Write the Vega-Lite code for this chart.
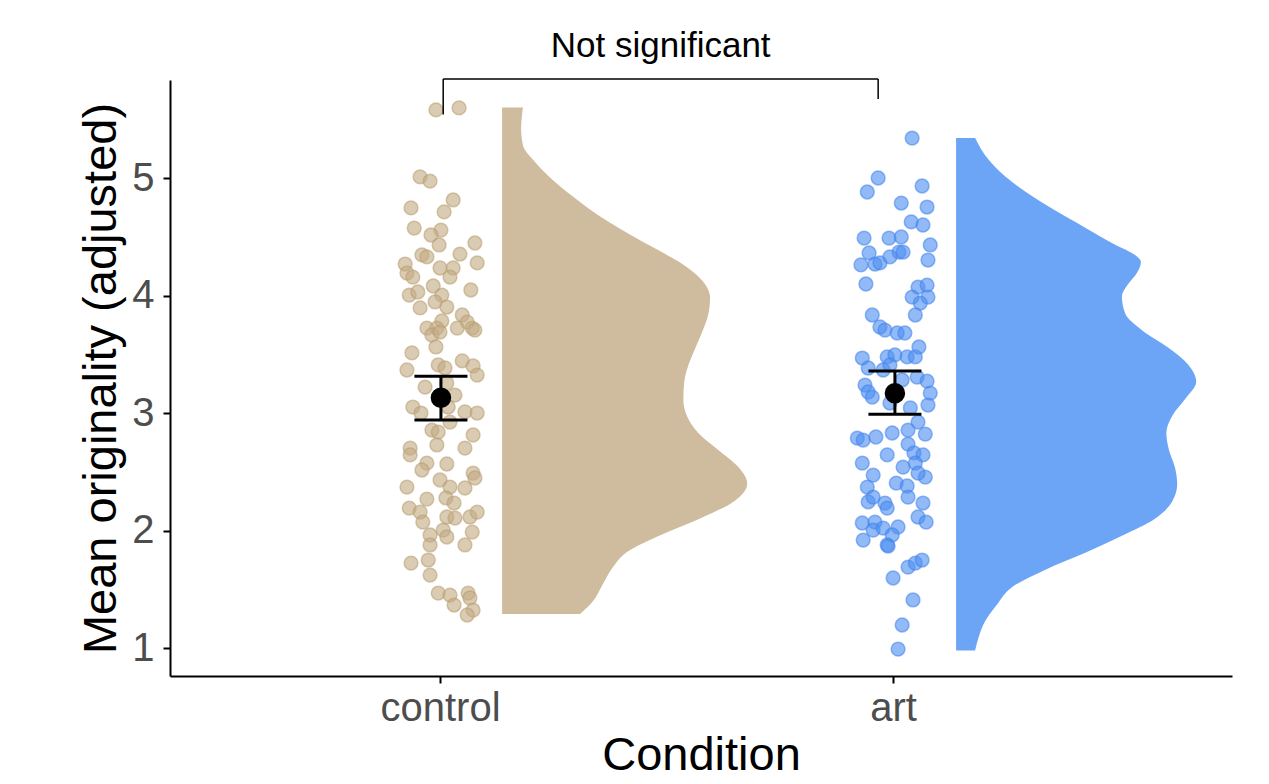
{
  "$schema": "https://vega.github.io/schema/vega-lite/v6.json",
  "width": 1062,
  "height": 596,
  "autosize": "none",
  "padding": {"left": 170, "top": 80, "right": 37, "bottom": 108},
  "background": "white",
  "config": {
    "view": {"stroke": null},
    "font": "Liberation Sans",
    "axis": {
      "grid": false,
      "domainColor": "black",
      "domainWidth": 2,
      "tickColor": "black",
      "tickWidth": 2,
      "tickSize": 7,
      "labelFont": "Liberation Sans",
      "labelFontSize": 40,
      "labelColor": "#4d4d4d",
      "titleFont": "Liberation Sans",
      "titleFontSize": 47,
      "titleFontWeight": "normal",
      "titleColor": "black"
    }
  },
  "datasets": {
    "points": [
      {"cond": "control", "jitter_x": 0.991, "value": 5.579},
      {"cond": "control", "jitter_x": 1.042, "value": 5.596},
      {"cond": "control", "jitter_x": 0.956, "value": 5.009},
      {"cond": "control", "jitter_x": 0.978, "value": 4.974},
      {"cond": "control", "jitter_x": 1.029, "value": 4.813},
      {"cond": "control", "jitter_x": 0.936, "value": 4.745},
      {"cond": "control", "jitter_x": 1.009, "value": 4.711},
      {"cond": "control", "jitter_x": 0.943, "value": 4.574},
      {"cond": "control", "jitter_x": 1.002, "value": 4.557},
      {"cond": "control", "jitter_x": 0.980, "value": 4.515},
      {"cond": "control", "jitter_x": 1.077, "value": 4.447},
      {"cond": "control", "jitter_x": 0.998, "value": 4.430},
      {"cond": "control", "jitter_x": 0.960, "value": 4.345},
      {"cond": "control", "jitter_x": 0.971, "value": 4.328},
      {"cond": "control", "jitter_x": 1.044, "value": 4.353},
      {"cond": "control", "jitter_x": 0.923, "value": 4.268},
      {"cond": "control", "jitter_x": 1.082, "value": 4.277},
      {"cond": "control", "jitter_x": 1.000, "value": 4.234},
      {"cond": "control", "jitter_x": 1.029, "value": 4.234},
      {"cond": "control", "jitter_x": 0.927, "value": 4.191},
      {"cond": "control", "jitter_x": 0.940, "value": 4.157},
      {"cond": "control", "jitter_x": 1.022, "value": 4.157},
      {"cond": "control", "jitter_x": 0.985, "value": 4.081},
      {"cond": "control", "jitter_x": 1.068, "value": 4.047},
      {"cond": "control", "jitter_x": 0.932, "value": 4.004},
      {"cond": "control", "jitter_x": 0.951, "value": 4.030},
      {"cond": "control", "jitter_x": 1.004, "value": 4.004},
      {"cond": "control", "jitter_x": 0.989, "value": 3.945},
      {"cond": "control", "jitter_x": 1.015, "value": 3.902},
      {"cond": "control", "jitter_x": 0.956, "value": 3.894},
      {"cond": "control", "jitter_x": 1.049, "value": 3.834},
      {"cond": "control", "jitter_x": 1.004, "value": 3.783},
      {"cond": "control", "jitter_x": 1.060, "value": 3.774},
      {"cond": "control", "jitter_x": 0.971, "value": 3.723},
      {"cond": "control", "jitter_x": 0.993, "value": 3.723},
      {"cond": "control", "jitter_x": 1.038, "value": 3.723},
      {"cond": "control", "jitter_x": 1.071, "value": 3.723},
      {"cond": "control", "jitter_x": 1.077, "value": 3.706},
      {"cond": "control", "jitter_x": 0.982, "value": 3.664},
      {"cond": "control", "jitter_x": 1.000, "value": 3.689},
      {"cond": "control", "jitter_x": 0.991, "value": 3.562},
      {"cond": "control", "jitter_x": 0.938, "value": 3.511},
      {"cond": "control", "jitter_x": 0.996, "value": 3.409},
      {"cond": "control", "jitter_x": 1.011, "value": 3.383},
      {"cond": "control", "jitter_x": 1.049, "value": 3.443},
      {"cond": "control", "jitter_x": 1.073, "value": 3.400},
      {"cond": "control", "jitter_x": 0.927, "value": 3.366},
      {"cond": "control", "jitter_x": 1.082, "value": 3.323},
      {"cond": "control", "jitter_x": 1.015, "value": 3.255},
      {"cond": "control", "jitter_x": 0.967, "value": 3.221},
      {"cond": "control", "jitter_x": 1.033, "value": 3.153},
      {"cond": "control", "jitter_x": 0.940, "value": 3.051},
      {"cond": "control", "jitter_x": 0.958, "value": 3.000},
      {"cond": "control", "jitter_x": 1.018, "value": 3.051},
      {"cond": "control", "jitter_x": 1.055, "value": 3.009},
      {"cond": "control", "jitter_x": 1.082, "value": 3.000},
      {"cond": "control", "jitter_x": 1.022, "value": 2.923},
      {"cond": "control", "jitter_x": 0.982, "value": 2.855},
      {"cond": "control", "jitter_x": 0.996, "value": 2.838},
      {"cond": "control", "jitter_x": 1.073, "value": 2.813},
      {"cond": "control", "jitter_x": 0.993, "value": 2.728},
      {"cond": "control", "jitter_x": 0.934, "value": 2.702},
      {"cond": "control", "jitter_x": 0.934, "value": 2.643},
      {"cond": "control", "jitter_x": 1.055, "value": 2.702},
      {"cond": "control", "jitter_x": 0.971, "value": 2.574},
      {"cond": "control", "jitter_x": 0.960, "value": 2.515},
      {"cond": "control", "jitter_x": 1.015, "value": 2.566},
      {"cond": "control", "jitter_x": 1.073, "value": 2.489},
      {"cond": "control", "jitter_x": 1.077, "value": 2.447},
      {"cond": "control", "jitter_x": 1.000, "value": 2.430},
      {"cond": "control", "jitter_x": 1.022, "value": 2.370},
      {"cond": "control", "jitter_x": 0.927, "value": 2.370},
      {"cond": "control", "jitter_x": 1.055, "value": 2.362},
      {"cond": "control", "jitter_x": 0.971, "value": 2.268},
      {"cond": "control", "jitter_x": 1.013, "value": 2.277},
      {"cond": "control", "jitter_x": 1.031, "value": 2.234},
      {"cond": "control", "jitter_x": 0.932, "value": 2.191},
      {"cond": "control", "jitter_x": 0.956, "value": 2.157},
      {"cond": "control", "jitter_x": 0.962, "value": 2.072},
      {"cond": "control", "jitter_x": 1.015, "value": 2.115},
      {"cond": "control", "jitter_x": 1.033, "value": 2.106},
      {"cond": "control", "jitter_x": 1.066, "value": 2.115},
      {"cond": "control", "jitter_x": 1.082, "value": 2.157},
      {"cond": "control", "jitter_x": 1.071, "value": 1.987},
      {"cond": "control", "jitter_x": 1.007, "value": 2.004},
      {"cond": "control", "jitter_x": 1.015, "value": 1.945},
      {"cond": "control", "jitter_x": 0.978, "value": 1.962},
      {"cond": "control", "jitter_x": 0.978, "value": 1.877},
      {"cond": "control", "jitter_x": 1.055, "value": 1.877},
      {"cond": "control", "jitter_x": 0.974, "value": 1.749},
      {"cond": "control", "jitter_x": 0.936, "value": 1.723},
      {"cond": "control", "jitter_x": 0.978, "value": 1.621},
      {"cond": "control", "jitter_x": 0.996, "value": 1.468},
      {"cond": "control", "jitter_x": 1.022, "value": 1.451},
      {"cond": "control", "jitter_x": 1.062, "value": 1.468},
      {"cond": "control", "jitter_x": 1.066, "value": 1.426},
      {"cond": "control", "jitter_x": 1.031, "value": 1.366},
      {"cond": "control", "jitter_x": 1.073, "value": 1.323},
      {"cond": "control", "jitter_x": 1.060, "value": 1.281},
      {"cond": "art", "jitter_x": 2.042, "value": 5.340},
      {"cond": "art", "jitter_x": 1.967, "value": 5.000},
      {"cond": "art", "jitter_x": 1.943, "value": 4.881},
      {"cond": "art", "jitter_x": 2.064, "value": 4.932},
      {"cond": "art", "jitter_x": 2.018, "value": 4.787},
      {"cond": "art", "jitter_x": 2.075, "value": 4.753},
      {"cond": "art", "jitter_x": 2.040, "value": 4.626},
      {"cond": "art", "jitter_x": 2.066, "value": 4.600},
      {"cond": "art", "jitter_x": 1.936, "value": 4.489},
      {"cond": "art", "jitter_x": 1.991, "value": 4.489},
      {"cond": "art", "jitter_x": 2.018, "value": 4.498},
      {"cond": "art", "jitter_x": 2.082, "value": 4.430},
      {"cond": "art", "jitter_x": 1.947, "value": 4.362},
      {"cond": "art", "jitter_x": 2.013, "value": 4.370},
      {"cond": "art", "jitter_x": 2.022, "value": 4.370},
      {"cond": "art", "jitter_x": 1.929, "value": 4.260},
      {"cond": "art", "jitter_x": 1.960, "value": 4.268},
      {"cond": "art", "jitter_x": 1.971, "value": 4.277},
      {"cond": "art", "jitter_x": 1.993, "value": 4.328},
      {"cond": "art", "jitter_x": 2.077, "value": 4.302},
      {"cond": "art", "jitter_x": 1.940, "value": 4.098},
      {"cond": "art", "jitter_x": 2.055, "value": 4.072},
      {"cond": "art", "jitter_x": 2.075, "value": 4.089},
      {"cond": "art", "jitter_x": 2.042, "value": 3.987},
      {"cond": "art", "jitter_x": 2.077, "value": 3.987},
      {"cond": "art", "jitter_x": 2.060, "value": 3.936},
      {"cond": "art", "jitter_x": 2.049, "value": 3.834},
      {"cond": "art", "jitter_x": 1.954, "value": 3.834},
      {"cond": "art", "jitter_x": 1.971, "value": 3.732},
      {"cond": "art", "jitter_x": 1.982, "value": 3.706},
      {"cond": "art", "jitter_x": 2.009, "value": 3.681},
      {"cond": "art", "jitter_x": 2.026, "value": 3.681},
      {"cond": "art", "jitter_x": 1.932, "value": 3.468},
      {"cond": "art", "jitter_x": 1.945, "value": 3.383},
      {"cond": "art", "jitter_x": 1.987, "value": 3.477},
      {"cond": "art", "jitter_x": 2.004, "value": 3.494},
      {"cond": "art", "jitter_x": 2.031, "value": 3.477},
      {"cond": "art", "jitter_x": 2.049, "value": 3.477},
      {"cond": "art", "jitter_x": 2.057, "value": 3.562},
      {"cond": "art", "jitter_x": 1.978, "value": 3.366},
      {"cond": "art", "jitter_x": 1.993, "value": 3.409},
      {"cond": "art", "jitter_x": 2.020, "value": 3.281},
      {"cond": "art", "jitter_x": 2.053, "value": 3.306},
      {"cond": "art", "jitter_x": 2.075, "value": 3.272},
      {"cond": "art", "jitter_x": 1.938, "value": 3.238},
      {"cond": "art", "jitter_x": 1.945, "value": 3.179},
      {"cond": "art", "jitter_x": 1.954, "value": 3.136},
      {"cond": "art", "jitter_x": 2.082, "value": 3.170},
      {"cond": "art", "jitter_x": 2.077, "value": 3.068},
      {"cond": "art", "jitter_x": 1.993, "value": 3.085},
      {"cond": "art", "jitter_x": 2.038, "value": 3.043},
      {"cond": "art", "jitter_x": 2.055, "value": 2.923},
      {"cond": "art", "jitter_x": 2.071, "value": 2.821},
      {"cond": "art", "jitter_x": 2.033, "value": 2.855},
      {"cond": "art", "jitter_x": 1.998, "value": 2.830},
      {"cond": "art", "jitter_x": 1.962, "value": 2.796},
      {"cond": "art", "jitter_x": 1.921, "value": 2.787},
      {"cond": "art", "jitter_x": 1.934, "value": 2.770},
      {"cond": "art", "jitter_x": 2.033, "value": 2.736},
      {"cond": "art", "jitter_x": 1.987, "value": 2.643},
      {"cond": "art", "jitter_x": 2.046, "value": 2.660},
      {"cond": "art", "jitter_x": 2.066, "value": 2.643},
      {"cond": "art", "jitter_x": 1.932, "value": 2.574},
      {"cond": "art", "jitter_x": 2.022, "value": 2.540},
      {"cond": "art", "jitter_x": 2.049, "value": 2.574},
      {"cond": "art", "jitter_x": 1.956, "value": 2.472},
      {"cond": "art", "jitter_x": 2.071, "value": 2.455},
      {"cond": "art", "jitter_x": 2.055, "value": 2.489},
      {"cond": "art", "jitter_x": 1.943, "value": 2.370},
      {"cond": "art", "jitter_x": 2.007, "value": 2.404},
      {"cond": "art", "jitter_x": 2.031, "value": 2.379},
      {"cond": "art", "jitter_x": 1.945, "value": 2.243},
      {"cond": "art", "jitter_x": 1.982, "value": 2.234},
      {"cond": "art", "jitter_x": 1.987, "value": 2.191},
      {"cond": "art", "jitter_x": 2.033, "value": 2.285},
      {"cond": "art", "jitter_x": 2.066, "value": 2.234},
      {"cond": "art", "jitter_x": 2.055, "value": 2.115},
      {"cond": "art", "jitter_x": 2.073, "value": 2.072},
      {"cond": "art", "jitter_x": 1.956, "value": 2.285},
      {"cond": "art", "jitter_x": 1.932, "value": 2.064},
      {"cond": "art", "jitter_x": 1.960, "value": 2.072},
      {"cond": "art", "jitter_x": 1.956, "value": 2.004},
      {"cond": "art", "jitter_x": 1.978, "value": 2.021},
      {"cond": "art", "jitter_x": 2.011, "value": 2.030},
      {"cond": "art", "jitter_x": 1.998, "value": 1.962},
      {"cond": "art", "jitter_x": 1.934, "value": 1.919},
      {"cond": "art", "jitter_x": 1.987, "value": 1.877},
      {"cond": "art", "jitter_x": 1.989, "value": 1.868},
      {"cond": "art", "jitter_x": 2.033, "value": 1.689},
      {"cond": "art", "jitter_x": 2.049, "value": 1.723},
      {"cond": "art", "jitter_x": 2.064, "value": 1.749},
      {"cond": "art", "jitter_x": 2.000, "value": 1.596},
      {"cond": "art", "jitter_x": 2.044, "value": 1.409},
      {"cond": "art", "jitter_x": 2.020, "value": 1.196},
      {"cond": "art", "jitter_x": 2.011, "value": 0.991}
    ],
    "violin": [
      {"cond": "control", "value": 5.600, "base": 1.137, "edge": 1.183},
      {"cond": "control", "value": 5.421, "base": 1.137, "edge": 1.179},
      {"cond": "control", "value": 5.278, "base": 1.137, "edge": 1.183},
      {"cond": "control", "value": 5.134, "base": 1.137, "edge": 1.210},
      {"cond": "control", "value": 4.990, "base": 1.137, "edge": 1.247},
      {"cond": "control", "value": 4.846, "base": 1.137, "edge": 1.292},
      {"cond": "control", "value": 4.702, "base": 1.137, "edge": 1.342},
      {"cond": "control", "value": 4.558, "base": 1.137, "edge": 1.402},
      {"cond": "control", "value": 4.414, "base": 1.137, "edge": 1.468},
      {"cond": "control", "value": 4.270, "base": 1.137, "edge": 1.534},
      {"cond": "control", "value": 4.126, "base": 1.137, "edge": 1.579},
      {"cond": "control", "value": 3.982, "base": 1.137, "edge": 1.596},
      {"cond": "control", "value": 3.838, "base": 1.137, "edge": 1.592},
      {"cond": "control", "value": 3.694, "base": 1.137, "edge": 1.579},
      {"cond": "control", "value": 3.550, "base": 1.137, "edge": 1.563},
      {"cond": "control", "value": 3.406, "base": 1.137, "edge": 1.548},
      {"cond": "control", "value": 3.262, "base": 1.137, "edge": 1.539},
      {"cond": "control", "value": 3.118, "base": 1.137, "edge": 1.537},
      {"cond": "control", "value": 2.974, "base": 1.137, "edge": 1.545},
      {"cond": "control", "value": 2.830, "base": 1.137, "edge": 1.570},
      {"cond": "control", "value": 2.686, "base": 1.137, "edge": 1.614},
      {"cond": "control", "value": 2.542, "base": 1.137, "edge": 1.658},
      {"cond": "control", "value": 2.398, "base": 1.137, "edge": 1.678},
      {"cond": "control", "value": 2.254, "base": 1.137, "edge": 1.651},
      {"cond": "control", "value": 2.111, "base": 1.137, "edge": 1.579},
      {"cond": "control", "value": 1.967, "base": 1.137, "edge": 1.490},
      {"cond": "control", "value": 1.823, "base": 1.137, "edge": 1.415},
      {"cond": "control", "value": 1.679, "base": 1.137, "edge": 1.380},
      {"cond": "control", "value": 1.535, "base": 1.137, "edge": 1.358},
      {"cond": "control", "value": 1.391, "base": 1.137, "edge": 1.336},
      {"cond": "control", "value": 1.290, "base": 1.137, "edge": 1.309},
      {"cond": "art", "value": 5.340, "base": 2.139, "edge": 2.181},
      {"cond": "art", "value": 5.159, "base": 2.139, "edge": 2.210},
      {"cond": "art", "value": 5.014, "base": 2.139, "edge": 2.247},
      {"cond": "art", "value": 4.868, "base": 2.139, "edge": 2.298},
      {"cond": "art", "value": 4.723, "base": 2.139, "edge": 2.358},
      {"cond": "art", "value": 4.577, "base": 2.139, "edge": 2.424},
      {"cond": "art", "value": 4.431, "base": 2.139, "edge": 2.490},
      {"cond": "art", "value": 4.344, "base": 2.139, "edge": 2.534},
      {"cond": "art", "value": 4.286, "base": 2.139, "edge": 2.547},
      {"cond": "art", "value": 4.198, "base": 2.139, "edge": 2.539},
      {"cond": "art", "value": 4.082, "base": 2.139, "edge": 2.516},
      {"cond": "art", "value": 3.994, "base": 2.139, "edge": 2.505},
      {"cond": "art", "value": 3.849, "base": 2.139, "edge": 2.512},
      {"cond": "art", "value": 3.703, "base": 2.139, "edge": 2.550},
      {"cond": "art", "value": 3.558, "base": 2.139, "edge": 2.607},
      {"cond": "art", "value": 3.412, "base": 2.139, "edge": 2.651},
      {"cond": "art", "value": 3.266, "base": 2.139, "edge": 2.669},
      {"cond": "art", "value": 3.121, "base": 2.139, "edge": 2.645},
      {"cond": "art", "value": 2.975, "base": 2.139, "edge": 2.616},
      {"cond": "art", "value": 2.829, "base": 2.139, "edge": 2.603},
      {"cond": "art", "value": 2.684, "base": 2.139, "edge": 2.609},
      {"cond": "art", "value": 2.538, "base": 2.139, "edge": 2.622},
      {"cond": "art", "value": 2.393, "base": 2.139, "edge": 2.627},
      {"cond": "art", "value": 2.247, "base": 2.139, "edge": 2.616},
      {"cond": "art", "value": 2.101, "base": 2.139, "edge": 2.578},
      {"cond": "art", "value": 1.956, "base": 2.139, "edge": 2.505},
      {"cond": "art", "value": 1.810, "base": 2.139, "edge": 2.424},
      {"cond": "art", "value": 1.664, "base": 2.139, "edge": 2.335},
      {"cond": "art", "value": 1.519, "base": 2.139, "edge": 2.263},
      {"cond": "art", "value": 1.373, "base": 2.139, "edge": 2.230},
      {"cond": "art", "value": 1.228, "base": 2.139, "edge": 2.203},
      {"cond": "art", "value": 1.082, "base": 2.139, "edge": 2.188},
      {"cond": "art", "value": 0.980, "base": 2.139, "edge": 2.181}
    ],
    "summary": [
      {"cond": "control", "pos": 1.002, "mean": 3.130, "lo": 2.940, "hi": 3.312},
      {"cond": "art", "pos": 2.004, "mean": 3.168, "lo": 2.989, "hi": 3.357}
    ],
    "bracket": [
      {"x1": 1.007, "x2": 1.967, "y1": 5.843, "y2": 5.843},
      {"x1": 1.007, "x2": 1.007, "y1": 5.843, "y2": 5.540},
      {"x1": 1.967, "x2": 1.967, "y1": 5.843, "y2": 5.672}
    ],
    "label": [
      {"x": 1.487, "y": 6.125, "text": "Not significant"}
    ]
  },
  "layer": [
    {
      "data": {"name": "violin"},
      "mark": {"type": "area", "orient": "horizontal", "interpolate": "monotone", "opacity": 1},
      "encoding": {
        "y": {"field": "value", "type": "quantitative"},
        "x": {"field": "edge", "type": "quantitative"},
        "x2": {"field": "base"},
        "detail": {"field": "cond"},
        "color": {"field": "cond", "type": "nominal", "scale": {"domain": ["control", "art"], "range": ["#cfbb9d", "#6ca5f5"]}, "legend": null}
      }
    },
    {
      "data": {"name": "points"},
      "mark": {"type": "point", "filled": true, "size": 190, "fillOpacity": 0.62, "strokeOpacity": 0.55, "strokeWidth": 1.5},
      "encoding": {
        "x": {"field": "jitter_x", "type": "quantitative"},
        "y": {"field": "value", "type": "quantitative"},
        "color": {"field": "cond", "type": "nominal", "scale": {"domain": ["control", "art"], "range": ["#c4ab84", "#4f8ff0"]}, "legend": null},
        "stroke": {"field": "cond", "type": "nominal", "scale": {"domain": ["control", "art"], "range": ["#b89c70", "#3f82ec"]}, "legend": null}
      }
    },
    {
      "data": {"name": "summary"},
      "mark": {"type": "rule", "strokeWidth": 3, "color": "black", "opacity": 1},
      "encoding": {
        "x": {"field": "pos", "type": "quantitative"},
        "y": {"field": "lo", "type": "quantitative"},
        "y2": {"field": "hi"}
      }
    },
    {
      "data": {"name": "summary"},
      "mark": {"type": "tick", "orient": "horizontal", "size": 53, "thickness": 3, "color": "black", "opacity": 1},
      "encoding": {
        "x": {"field": "pos", "type": "quantitative"},
        "y": {"field": "lo", "type": "quantitative"}
      }
    },
    {
      "data": {"name": "summary"},
      "mark": {"type": "tick", "orient": "horizontal", "size": 53, "thickness": 3, "color": "black", "opacity": 1},
      "encoding": {
        "x": {"field": "pos", "type": "quantitative"},
        "y": {"field": "hi", "type": "quantitative"}
      }
    },
    {
      "data": {"name": "summary"},
      "mark": {"type": "point", "filled": true, "size": 420, "color": "black", "opacity": 1},
      "encoding": {
        "x": {"field": "pos", "type": "quantitative"},
        "y": {"field": "mean", "type": "quantitative"}
      }
    },
    {
      "data": {"name": "bracket"},
      "mark": {"type": "rule", "strokeWidth": 1.5, "color": "black"},
      "encoding": {
        "x": {"field": "x1", "type": "quantitative"},
        "x2": {"field": "x2"},
        "y": {"field": "y1", "type": "quantitative"},
        "y2": {"field": "y2"}
      }
    },
    {
      "data": {"name": "label"},
      "mark": {"type": "text", "fontSize": 35, "color": "black", "baseline": "middle", "align": "center", "font": "Liberation Sans"},
      "encoding": {
        "x": {"field": "x", "type": "quantitative"},
        "y": {"field": "y", "type": "quantitative"},
        "text": {"field": "text"}
      }
    }
  ],
  "resolve": {"scale": {"color": "independent", "stroke": "independent"}},
  "encoding": {
    "x": {
      "type": "quantitative",
      "scale": {"domain": [0.404, 2.748], "nice": false, "zero": false},
      "axis": {"values": [1, 2], "labelExpr": "datum.value == 1 ? 'control' : 'art'", "title": "Condition", "labelPadding": 5, "titlePadding": 4}
    },
    "y": {
      "type": "quantitative",
      "scale": {"domain": [0.762, 5.834], "nice": false, "zero": false},
      "axis": {"values": [1, 2, 3, 4, 5], "title": "Mean originality (adjusted)", "labelPadding": 9, "titlePadding": 6}
    }
  }
}
